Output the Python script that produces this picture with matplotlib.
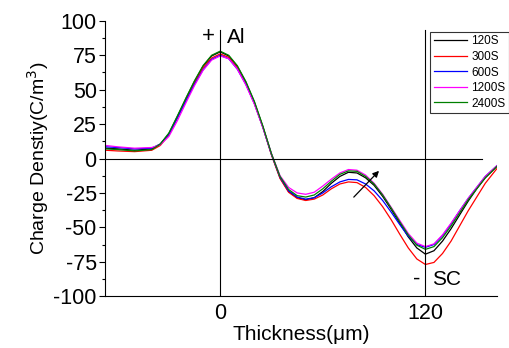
import matplotlib
matplotlib.use("Agg")
import matplotlib.pyplot as plt

plt.rcParams['font.family'] = ['Liberation Sans', 'DejaVu Sans']
plt.rcParams['axes.unicode_minus'] = False

# thickness positions (um)
thickness = [-67, -60, -50, -40, -35, -30, -25, -20, -15, -10, -5, 0, 5, 10, 15,
             20, 25, 30, 35, 40, 45, 50, 55, 60, 65, 70, 75, 80, 85, 90, 95,
             100, 105, 110, 115, 120, 125, 130, 135, 140, 145, 150, 155, 162]

rho_120 = [7.5, 7, 6, 7, 10.5, 18, 30.5, 43.5, 56, 67, 74.5, 77.5, 74.5, 67, 55.5,
           41, 23, 3, -14, -24, -28.5, -30, -28.5, -24, -18, -13, -10, -10.5, -14, -19.5, -27.5,
           -37, -47, -57, -65, -69.5, -67, -60, -51, -41, -31, -22, -14, -5.5]
rho_300 = [6, 5.5, 5, 6, 9.5, 17, 29.5, 42.5, 55, 66, 73, 76, 73.5, 66, 54.5,
           40, 22.5, 2.5, -14.5, -24.5, -29, -30.5, -29.5, -26.5, -22, -18.5, -17, -17.5, -21, -27, -35,
           -44.5, -55, -65, -73, -77, -75.5, -69, -60, -49, -38, -28, -18, -7]
rho_600 = [8.5, 8, 7, 7.5, 10.5, 17.5, 29.5, 42, 54, 64.5, 72, 75, 72.5, 65, 54,
           40, 22.5, 3, -13.5, -23.5, -28, -29.5, -28.5, -25, -20.5, -17, -15.2, -15.5, -18.5, -23.5, -30.5,
           -39, -48, -56.5, -62.5, -64.5, -62.5, -56, -47.5, -38, -29, -21, -13, -5]
rho_1200 = [9.5, 8.5, 7.5, 8, 10, 16, 27.5, 40.5, 53, 64, 71.5, 74.5, 72.5, 65, 53.5,
            39.5, 22.5, 3.5, -12.5, -21, -25, -26, -24.5, -20, -15, -10.5, -8, -8.5, -12, -18, -26,
            -35.5, -45, -54.5, -61.5, -64, -62, -55.5, -47, -38, -29, -21, -13, -5]
rho_2400 = [7, 6.5, 5.5, 6.5, 10.5, 18.5, 31, 44, 56.5, 67.5, 75, 78, 75, 67.5, 56,
            41.5, 23.5, 3.5, -13, -22.5, -27, -28, -26.5, -22, -16.5, -11.5, -9, -9.3, -13, -18.5, -26.5,
            -36, -46, -55.5, -63, -66, -64, -57.5, -49, -39.5, -30, -22, -14, -5.5]

series = [("120S", rho_120, "black"),
          ("300S", rho_300, "red"),
          ("600S", rho_600, "blue"),
          ("1200S", rho_1200, "magenta"),
          ("2400S", rho_2400, "green")]

fig = plt.figure(figsize=(5.1, 3.48), dpi=100)
ax = fig.add_axes([0.206, 0.149, 0.769, 0.791])

for name, vals, col in series:
    ax.plot(thickness, vals, color=col, lw=0.9, label=name)

# reference lines: zero line and electrode positions
ax.plot([-67.3, 153], [0, 0], color="black", lw=0.8)
ax.plot([0, 0], [-100, 93.5], color="black", lw=0.8)
ax.plot([120, 120], [-100, 93.5], color="black", lw=0.8)

ax.annotate("", xy=(94, -7.5), xytext=(77, -29.5),
            arrowprops=dict(arrowstyle="-|>", color="black", lw=0.9,
                            mutation_scale=9))

ax.text(-3, 89, "+", fontsize=16, ha="right", va="center")
ax.text(4, 88, "Al", fontsize=15, ha="left", va="center")
ax.text(117, -88, "-", fontsize=16, ha="right", va="center")
ax.text(124, -88, "SC", fontsize=15, ha="left", va="center")

ax.set_xlim(-67.3, 162)
ax.set_ylim(-100, 100)
ax.set_xticks([0, 120])
ax.set_yticks(list(range(-100, 101, 25)))
ax.set_yticks([-87.5, -62.5, -37.5, -12.5, 12.5, 37.5, 62.5, 87.5], minor=True)
ax.tick_params(axis="y", which="major", direction="out", length=4, width=0.8,
               labelsize=15.5, pad=2)
ax.tick_params(axis="y", which="minor", direction="out", length=2.5, width=0.8)
ax.tick_params(axis="x", direction="in", length=0, labelsize=15.5, pad=5)

ax.spines["top"].set_visible(False)
ax.spines["right"].set_visible(False)

ax.set_xlabel("Thickness(\u03bcm)", fontsize=15, labelpad=1)
ax.set_ylabel("Charge Denstiy(C/m$^3$)", fontsize=14, labelpad=2)

leg = ax.legend(loc="upper right", bbox_to_anchor=(1.03, 0.96), fontsize=8.5,
                frameon=True, fancybox=False, edgecolor="black",
                handlelength=2.8, handletextpad=0.4, labelspacing=0.3,
                borderpad=0.3, borderaxespad=0)
leg.get_frame().set_linewidth(0.8)

fig.savefig("out.png", dpi=100)
